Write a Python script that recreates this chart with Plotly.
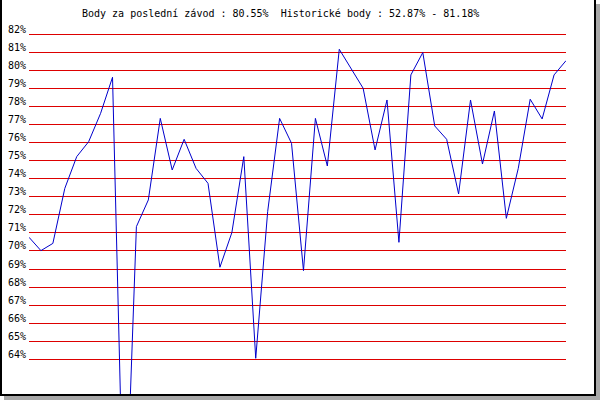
import plotly.graph_objects as go

# Data (percent points per race)
race_index = list(range(46))
points = [70.76, 70.02, 70.42, 73.47, 75.23, 76.06, 77.63, 79.63, 52.87, 71.35,
          72.83, 77.35, 74.49, 76.19, 74.58, 73.75, 69.10, 71.02, 75.23, 64.05,
          72.18, 77.35, 75.97, 68.91, 77.35, 74.71, 81.18, 80.10, 79.02, 75.60,
          78.37, 70.48, 79.76, 81.00, 76.93, 76.19, 73.16, 78.37, 74.82, 77.76,
          71.81, 74.58, 78.41, 77.32, 79.76, 80.55]
tick_values = list(range(64, 83))
tick_labels = [f"{v}%" for v in tick_values]
title_text = "Body za poslední závod : 80.55%  Historické body : 52.87% - 81.18%"

W, H = 600, 400
L, R, T, B = 29, 566, 20, 394  # plot area in pixels


def px(x):
    return (x - L) / (R - L)


def py(y):
    return (B - y) / (B - T)


FONT = "DejaVu Sans Mono"

fig = go.Figure()
fig.add_trace(go.Scatter(x=race_index, y=points, mode="lines",
                         line=dict(color="#0000cc", width=1),
                         hoverinfo="skip", showlegend=False))

shapes = []
def rect(x0, y0, x1, y1, color):
    shapes.append(dict(type="rect", xref="paper", yref="paper",
                       x0=px(x0), x1=px(x1), y0=py(y1), y1=py(y0),
                       fillcolor=color, line=dict(width=0), layer="above"))

rect(596, 4, 600, 400, "#a8a8a8")
rect(4, 396, 600, 400, "#a8a8a8")
rect(0, 0, 2, 396, "#000000")
rect(594, 0, 596, 396, "#000000")
rect(0, 394, 596, 396, "#000000")

fig.update_layout(
    width=W, height=H,
    margin=dict(l=L, r=W - R, t=T, b=H - B, pad=0),
    paper_bgcolor="white", plot_bgcolor="white",
    font=dict(family=FONT, size=10, color="black"),
    xaxis=dict(range=[0, 45], showgrid=False, zeroline=False,
               showticklabels=False, ticks="", showline=False, fixedrange=True),
    yaxis=dict(range=[82 - (B - 34.5) / 18.04, 82 + (34.5 - T) / 18.04],
               tickvals=tick_values, ticktext=tick_labels,
               showgrid=True, gridcolor="#dd0000", gridwidth=1,
               zeroline=False, ticks="", showline=False,
               ticklabelshift=-5, ticklabelstandoff=2,
               tickfont=dict(family=FONT, size=10, color="black"),
               fixedrange=True),
    shapes=shapes,
    annotations=[dict(text=title_text, xref="paper", yref="paper",
                      x=px(280.5), y=py(13.5), xanchor="center", yanchor="middle",
                      showarrow=False, font=dict(family=FONT, size=10, color="black"))],
)

fig.write_html("out.html", config={"displayModeBar": False, "staticPlot": True},
               post_script="document.body.style.margin='0';document.body.style.overflow='hidden';")
